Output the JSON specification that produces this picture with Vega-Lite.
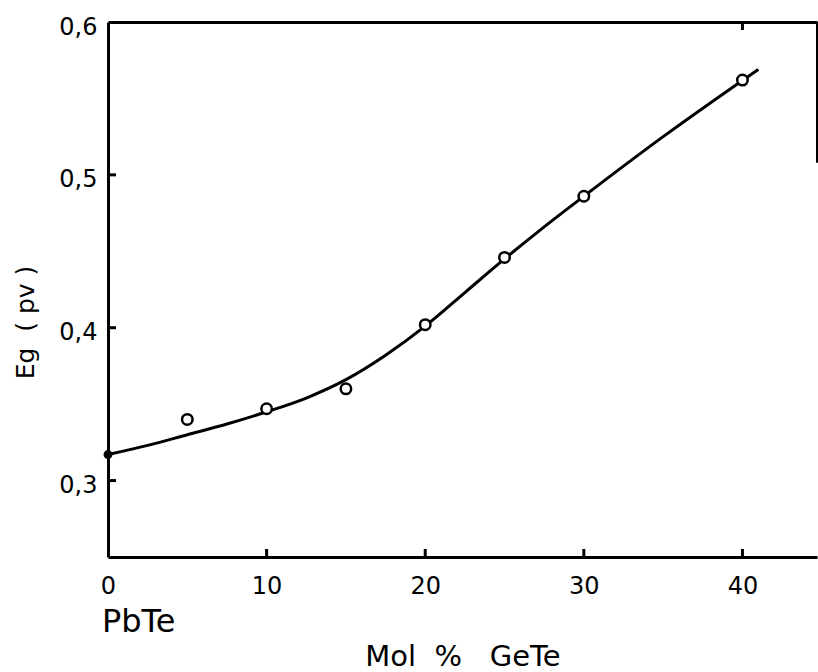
{
  "$schema": "https://vega.github.io/schema/vega-lite/v6.json",
  "width": 709,
  "height": 535,
  "autosize": {"type": "none"},
  "padding": {"left": 108, "top": 22, "right": 1, "bottom": 115},
  "background": "white",
  "config": {
    "view": {"stroke": null},
    "font": "DejaVu Sans",
    "axis": {"grid": false, "ticks": false, "domainColor": "black", "labelColor": "black", "titleColor": "black", "labelFont": "DejaVu Sans", "titleFont": "DejaVu Sans", "titleFontWeight": "normal"}
  },
  "resolve": {"axis": {"x": "independent"}},
  "datasets": {
    "curve": [
      {"x": 0, "y": 0.317},
      {"x": 2.5, "y": 0.323},
      {"x": 5, "y": 0.330},
      {"x": 7.5, "y": 0.337},
      {"x": 10, "y": 0.345},
      {"x": 12.5, "y": 0.354},
      {"x": 15, "y": 0.366},
      {"x": 17.5, "y": 0.382},
      {"x": 20, "y": 0.401},
      {"x": 22.5, "y": 0.423},
      {"x": 25, "y": 0.445},
      {"x": 27.5, "y": 0.466},
      {"x": 30, "y": 0.486},
      {"x": 35, "y": 0.525},
      {"x": 41, "y": 0.569}
    ],
    "obs": [
      {"x": 5, "y": 0.340},
      {"x": 10, "y": 0.347},
      {"x": 15, "y": 0.360},
      {"x": 20, "y": 0.402},
      {"x": 25, "y": 0.446},
      {"x": 30, "y": 0.486},
      {"x": 40, "y": 0.562}
    ],
    "pure": [{"x": 0, "y": 0.317}],
    "xticks": [{"x": 10}, {"x": 20}, {"x": 30}, {"x": 40}],
    "yticks": [{"y": 0.3}, {"y": 0.4}, {"y": 0.5}],
    "topticks": [{"x": 40}],
    "note": [{"x": 0, "y": 0.2075, "label": "PbTe"}],
    "edge": [{"x": 44.7, "y": 0.508, "y2": 0.6}]
  },
  "layer": [
    {
      "data": {"name": "curve"},
      "mark": {"type": "line", "color": "black", "strokeWidth": 3, "interpolate": "monotone", "clip": false},
      "encoding": {
        "x": {
          "field": "x", "type": "quantitative",
          "scale": {"domain": [0, 44.7], "nice": false, "zero": false},
          "axis": {
            "values": [0, 10, 20, 30, 40],
            "domainWidth": 3,
            "labelFontSize": 24, "labelPadding": 17, "labelFlush": false,
            "title": "Mol\u00a0\u00a0%\u00a0\u00a0\u00a0GeTe", "titleFontSize": 29, "titlePadding": 44
          }
        },
        "y": {
          "field": "y", "type": "quantitative",
          "scale": {"domain": [0.25, 0.6], "nice": false, "zero": false},
          "axis": {
            "values": [0.3, 0.4, 0.5, 0.6],
            "labelExpr": "replace(format(datum.value, '.1f'), '.', ',')",
            "domainWidth": 3,
            "labelFontSize": 24, "labelPadding": 11, "labelBaseline": "middle", "labelOffset": 5, "labelFlush": false,
            "title": "Eg\u00a0\u00a0(\u00a0pv\u00a0)", "titleFontSize": 25,
            "titleAngle": -90, "titleAlign": "center", "titleBaseline": "middle",
            "titleX": -83, "titleY": 300
          }
        }
      }
    },
    {
      "data": {"name": "pure"},
      "mark": {"type": "point", "shape": "circle", "filled": true, "color": "black", "size": 80, "opacity": 1},
      "encoding": {
        "x": {
          "field": "x", "type": "quantitative",
          "axis": {
            "orient": "top", "values": [40], "labels": false, "title": null,
            "domainWidth": 3
          }
        },
        "y": {"field": "y", "type": "quantitative"}
      }
    },
    {
      "data": {"name": "xticks"},
      "mark": {"type": "tick", "orient": "vertical", "color": "black", "size": 8, "thickness": 3, "opacity": 1},
      "encoding": {
        "x": {"field": "x", "type": "quantitative", "axis": null},
        "y": {"datum": 0.25},
        "yOffset": {"value": -4}
      }
    },
    {
      "data": {"name": "topticks"},
      "mark": {"type": "tick", "orient": "vertical", "color": "black", "size": 8, "thickness": 3, "opacity": 1},
      "encoding": {
        "x": {"field": "x", "type": "quantitative", "axis": null},
        "y": {"datum": 0.6},
        "yOffset": {"value": 4}
      }
    },
    {
      "data": {"name": "yticks"},
      "mark": {"type": "tick", "orient": "horizontal", "color": "black", "size": 8, "thickness": 3, "opacity": 1},
      "encoding": {
        "y": {"field": "y", "type": "quantitative"},
        "x": {"datum": 0, "axis": null},
        "xOffset": {"value": 4}
      }
    },
    {
      "data": {"name": "obs"},
      "mark": {"type": "point", "shape": "circle", "filled": true, "fill": "white", "stroke": "black", "strokeWidth": 2.5, "size": 110, "opacity": 1},
      "encoding": {
        "x": {"field": "x", "type": "quantitative", "axis": null},
        "y": {"field": "y", "type": "quantitative"}
      }
    },
    {
      "data": {"name": "edge"},
      "mark": {"type": "rule", "color": "black", "strokeWidth": 2},
      "encoding": {
        "x": {"field": "x", "type": "quantitative", "axis": null},
        "y": {"field": "y", "type": "quantitative"},
        "y2": {"field": "y2"}
      }
    },
    {
      "data": {"name": "note"},
      "mark": {"type": "text", "align": "left", "baseline": "middle", "fontSize": 32, "dx": -6, "color": "black", "clip": false},
      "encoding": {
        "x": {"field": "x", "type": "quantitative", "axis": null},
        "y": {"field": "y", "type": "quantitative"},
        "text": {"field": "label"}
      }
    }
  ]
}
